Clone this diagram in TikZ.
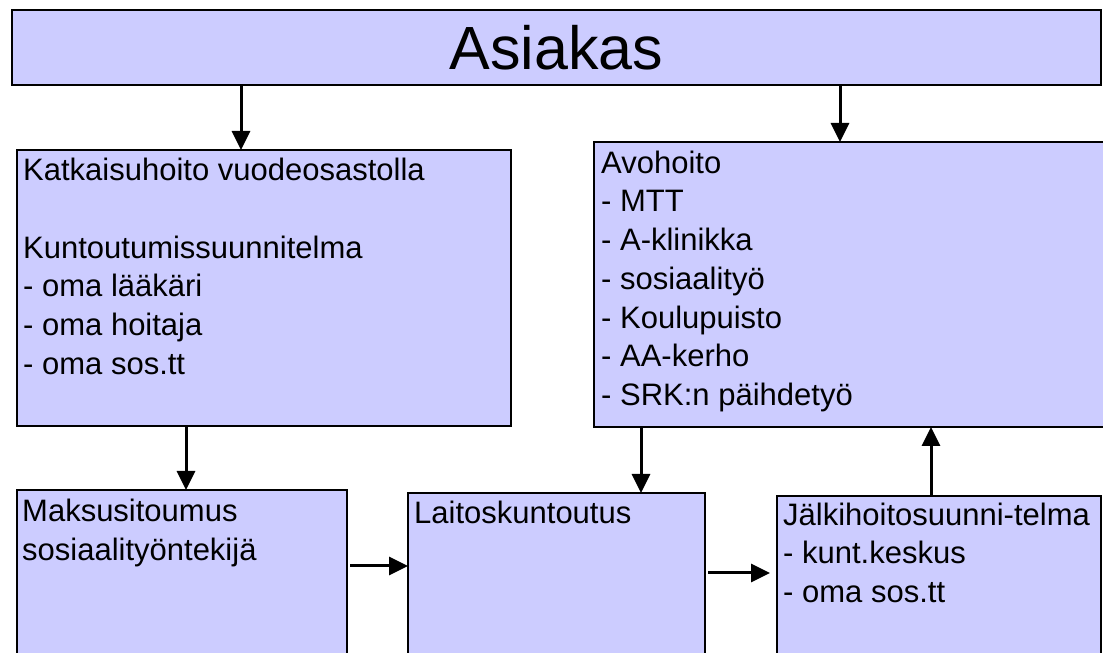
\documentclass[tikz,border=0pt]{standalone}
\usepackage{fontspec}
\setmainfont{Liberation Sans}
\usetikzlibrary{arrows.meta}
\definecolor{boxfill}{HTML}{CCCCFF}
\tikzstyle{box} = [rectangle, draw=black, line width=2pt, fill=boxfill, inner sep=0pt, outer sep=0pt, anchor=north west]
\tikzstyle{boxtext} = [anchor=north west, inner sep=0pt, align=left, font=\fontsize{31}{38.7}\selectfont]
\tikzstyle{arrow} = [line width=3pt, -{Triangle[length=19pt,width=18pt]}]

\begin{document}
\begin{tikzpicture}[x=1pt,y=1pt]

    \useasboundingbox (0,0) rectangle (1103,653);
    \clip (0,0) rectangle (1103,653);

    % Boxes
    \node (asiakas) [box, minimum width=1089pt, minimum height=75pt, font=\fontsize{61}{70}\selectfont] at (12,643) {Asiakas};
    \node (kat) [box, minimum width=494pt, minimum height=276pt] at (17,503) {};
    \node (avo) [box, minimum width=530pt, minimum height=285pt] at (594,511) {};
    \node (maks) [box, minimum width=330pt, minimum height=190pt] at (17,163) {};
    \node (lait) [box, minimum width=297pt, minimum height=190pt] at (408,160) {};
    \node (jalk) [box, minimum width=324pt, minimum height=190pt] at (777,157) {};

    % Box texts
    \node (kattext) [boxtext] at ([shift={(6pt,-3.4pt)}]kat.north west) {\strut Katkaisuhoito vuodeosastolla\\ \strut\\ Kuntoutumissuunnitelma\\ - oma lääkäri\\ - oma hoitaja\\ - oma sos.tt};
    \node (avotext) [boxtext] at ([shift={(7pt,-4pt)}]avo.north west) {\strut Avohoito\\ - MTT\\ - A-klinikka\\ - sosiaalityö\\ - Koulupuisto\\ - AA-kerho\\ - SRK:n päihdetyö};
    \node (makstext) [boxtext] at ([shift={(5pt,-4.5pt)}]maks.north west) {\strut Maksusitoumus\\ sosiaalityöntekijä};
    \node (laittext) [boxtext] at ([shift={(6pt,-3pt)}]lait.north west) {\strut Laitoskuntoutus};
    \node (jalktext) [boxtext] at ([shift={(6pt,-2pt)}]jalk.north west) {\strut Jälkihoitosuunni-telma\\ - kunt.keskus\\ - oma sos.tt};

    % Arrows
    \draw [arrow] (asiakas.south -| 241,0) -- (kat.north -| 241,0);
    \draw [arrow] (asiakas.south -| 840,0) -- (avo.north -| 840,0);
    \draw [arrow] (kat.south -| 186,0) -- (maks.north -| 186,0);
    \draw [arrow] (avo.south -| 641,0) -- (lait.north -| 641,0);
    \draw [arrow] (jalk.north -| 931,0) -- (avo.south -| 931,0);
    \draw [arrow, shorten <=3pt] (maks.east |- 0,87) -- (lait.west |- 0,87);
    \draw [arrow, shorten <=3pt, shorten >=7pt] (lait.east |- 0,80) -- (jalk.west |- 0,80);

\end{tikzpicture}
\end{document}
